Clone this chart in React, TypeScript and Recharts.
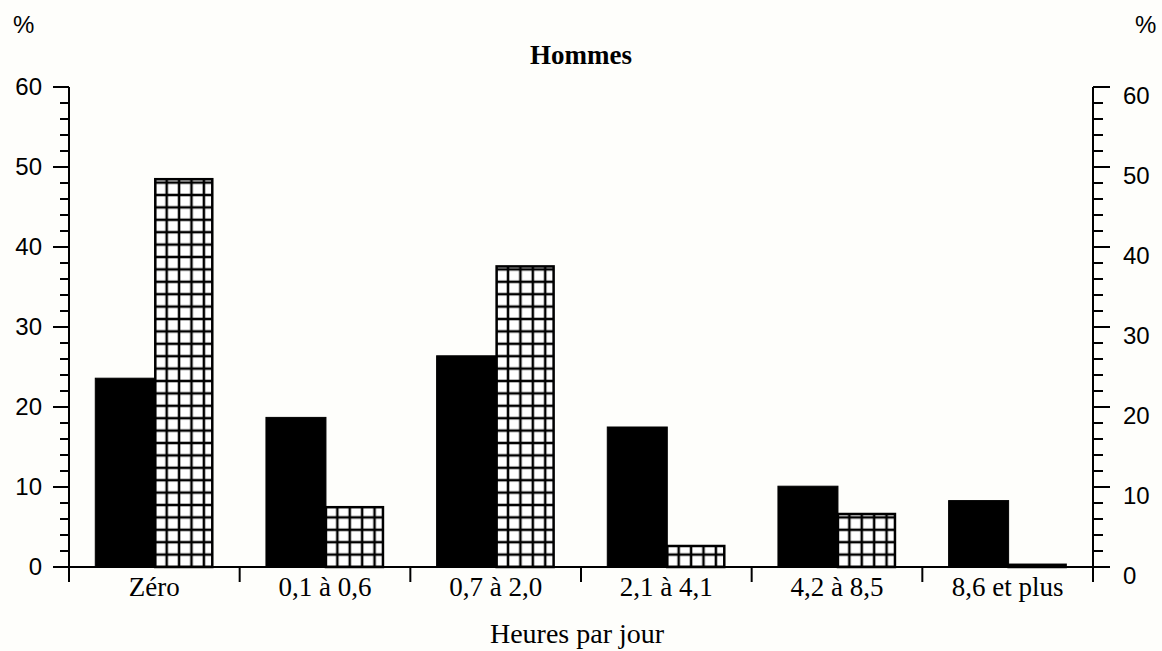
import React from "react";
import { BarChart, Bar, XAxis, YAxis } from "recharts";

const categories = ["Zéro", "0,1 à 0,6", "0,7 à 2,0", "2,1 à 4,1", "4,2 à 8,5", "8,6 et plus"];
const solidValues = [23.6, 18.7, 26.4, 17.5, 10.1, 8.3];
const hatchedValues = [48.6, 7.6, 37.7, 2.75, 6.75, 0.4];
const yTicks = [0, 2, 4, 6, 8, 10, 12, 14, 16, 18, 20, 22, 24, 26, 28, 30, 32, 34, 36, 38, 40, 42, 44, 46, 48, 50, 52, 54, 56, 58, 60];
const title = "Hommes";
const xLabel = "Heures par jour";
const unitLabel = "%";

const data = categories.map((c, i) => ({ cat: c, solid: solidValues[i], hatched: hatchedValues[i] }));

const BG = "#fefefb";
const SERIF = "'Liberation Serif', 'Times New Roman', serif";
const SANS = "'Liberation Sans', Arial, sans-serif";

const LeftTick = (props: any) => {
  const { x, y, payload } = props;
  const major = payload.value % 10 === 0;
  const len = major ? 16 : 9;
  return (
    <g>
      <line x1={x} x2={x - len} y1={y} y2={y} stroke="#000" strokeWidth={2} />
      {major && (
        <text x={x - 27} y={y + 8} textAnchor="end" fontFamily={SANS} fontSize={24} fill="#000">
          {payload.value}
        </text>
      )}
    </g>
  );
};

const RightTick = (props: any) => {
  const { x, y, payload } = props;
  const major = payload.value % 10 === 0;
  const len = major ? 17 : 10;
  return (
    <g>
      <line x1={x} x2={x + len} y1={y} y2={y} stroke="#000" strokeWidth={2} />
      {major && (
        <text x={x + 30} y={y + 17} textAnchor="start" fontFamily={SANS} fontSize={24} fill="#000">
          {payload.value}
        </text>
      )}
    </g>
  );
};

const BottomTick = (props: any) => {
  const { x, y, payload, index, visibleTicksCount } = props;
  const bw = 1024 / categories.length;
  const isLast = index === (visibleTicksCount ?? categories.length) - 1;
  return (
    <g>
      <line x1={x - bw / 2} x2={x - bw / 2} y1={y} y2={y + 15} stroke="#000" strokeWidth={2} />
      {isLast && <line x1={x + bw / 2} x2={x + bw / 2} y1={y} y2={y + 15} stroke="#000" strokeWidth={2} />}
      <text x={x} y={y + 29} textAnchor="middle" fontFamily={SERIF} fontSize={27} fill="#000">
        {payload.value}
      </text>
    </g>
  );
};

const HatchedBar = (props: any) => {
  const { x, y, width, height, index } = props;
  if (width == null || height == null) return null;
  const id = `grid-${index}`;
  const s = 12.4;
  const t = 1.25;
  return (
    <g>
      <defs>
        <pattern id={id} patternUnits="userSpaceOnUse" x={x} y={y + height} width={s} height={s}>
          <rect x={0} y={0} width={s} height={s} fill="#fff" />
          <rect x={0} y={0} width={t} height={s} fill="#000" />
          <rect x={s - t} y={0} width={t} height={s} fill="#000" />
          <rect x={0} y={0} width={s} height={t} fill="#000" />
          <rect x={0} y={s - t} width={s} height={t} fill="#000" />
        </pattern>
      </defs>
      <rect x={x + 1} y={y + 1} width={Math.max(width - 2, 0)} height={Math.max(height - 1, 0)} fill={`url(#${id})`} stroke="#000" strokeWidth={2.5} />
    </g>
  );
};

const SolidBar = (props: any) => {
  const { x, y, width, height } = props;
  if (width == null || height == null) return null;
  return <rect x={x} y={y} width={width + 1} height={height} fill="#000" stroke="#000" strokeWidth={1} />;
};

export default function App() {
  return (
    <div style={{ position: "absolute", left: 0, top: 0, width: 1162, height: 651, background: BG }}>
      <BarChart
        width={1162}
        height={651}
        data={data}
        margin={{ top: 87, right: 29, bottom: 54, left: 29 }}
        barCategoryGap="15.4%"
        barGap={0}
      >
        <XAxis
          dataKey="cat"
          xAxisId={0}
          height={30}
          tickSize={0}
          tickMargin={0}
          tickLine={false}
          axisLine={{ stroke: "#000", strokeWidth: 2 }}
          tick={<BottomTick />}
          interval={0}
        />
        <YAxis
          yAxisId="left"
          orientation="left"
          width={40}
          domain={[0, 60]}
          ticks={yTicks}
          interval={0}
          tickSize={0}
          tickMargin={0}
          tickLine={false}
          axisLine={{ stroke: "#000", strokeWidth: 2 }}
          tick={<LeftTick />}
        />
        <YAxis
          yAxisId="right"
          orientation="right"
          width={40}
          domain={[0, 60]}
          ticks={yTicks}
          interval={0}
          tickSize={0}
          tickMargin={0}
          tickLine={false}
          axisLine={{ stroke: "#000", strokeWidth: 2 }}
          tick={<RightTick />}
        />
        <Bar dataKey="solid" yAxisId="left" isAnimationActive={false} shape={<SolidBar />} />
        <Bar dataKey="hatched" yAxisId="right" isAnimationActive={false} shape={<HatchedBar />} />
        <text x={581} y={64} textAnchor="middle" fontFamily={SERIF} fontSize={27} fontWeight="bold" fill="#000">
          {title}
        </text>
        <text x={13} y={33} textAnchor="start" fontFamily={SANS} fontSize={24} fill="#000">
          {unitLabel}
        </text>
        <text x={1135} y={33} textAnchor="start" fontFamily={SANS} fontSize={24} fill="#000">
          {unitLabel}
        </text>
        <text x={577} y={643} textAnchor="middle" fontFamily={SERIF} fontSize={28} fill="#000">
          {xLabel}
        </text>
      </BarChart>
    </div>
  );
}
